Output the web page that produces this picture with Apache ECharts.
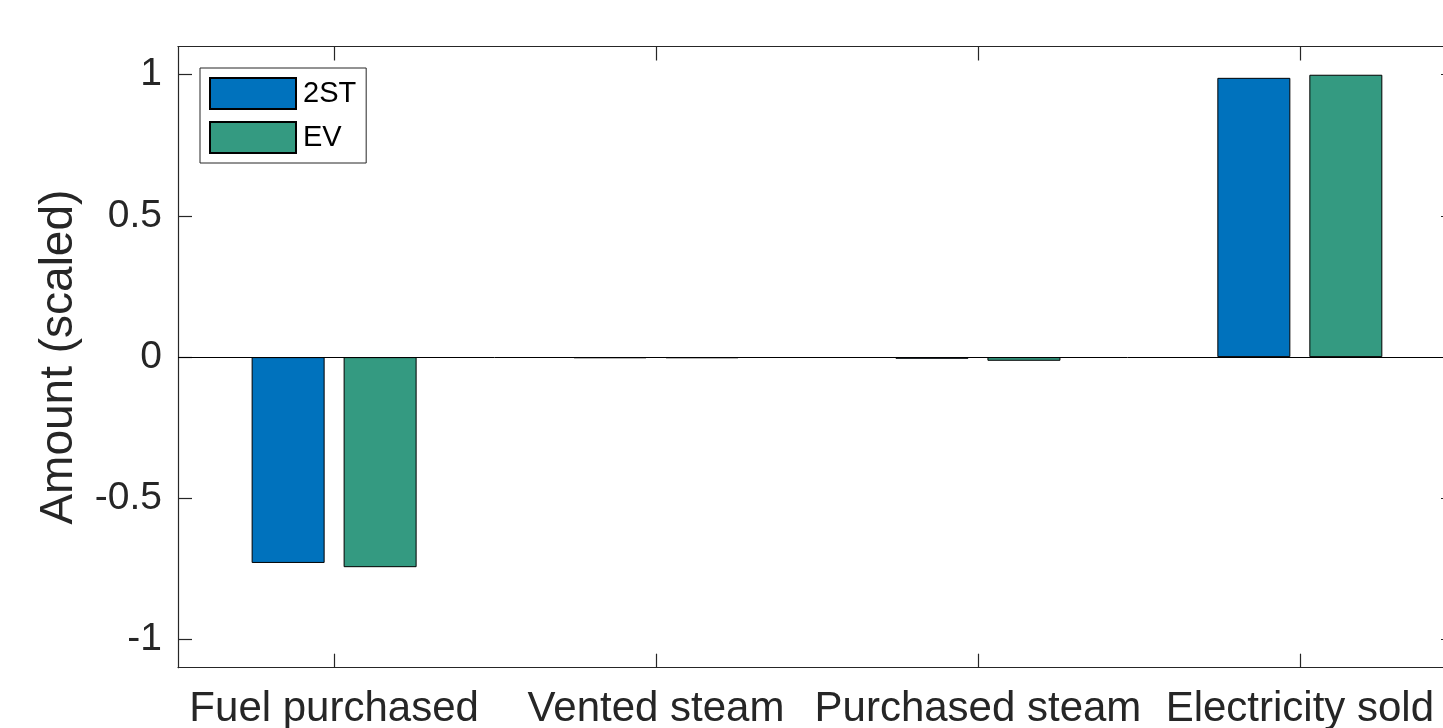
<!DOCTYPE html>
<html>
<head>
<meta charset="utf-8">
<script src="https://cdn.jsdelivr.net/npm/echarts@6/dist/echarts.min.js"></script>
<style>
  html, body { margin: 0; padding: 0; background: #fff; }
  #chart { width: 1443px; height: 728px; }
</style>
</head>
<body>
<div id="chart"></div>
<script>
// Categories on the horizontal axis (placed at positions 1..4)
const categories = ['Fuel purchased', 'Vented steam', 'Purchased steam', 'Electricity sold'];
const seriesNames = ['2ST', 'EV'];
// Scaled amounts per category
const values2ST = [-0.729, -0.004, -0.006, 0.989];
const valuesEV  = [-0.744, -0.004, -0.013, 1.000];
const yTicks = [-1, -0.5, 0, 0.5, 1];
const xTicks = [1, 2, 3, 4];

const FONT = "'Liberation Sans', Arial, sans-serif";
const AXIS_COLOR = '#262626';
const colors = ['#0072BD', '#349A81'];

const toPairs = arr => arr.map((v, i) => [i + 1, v]);

const xMin = 0.515, xMax = 4.482;
const yMin = -1.1, yMax = 1.1;

const chart = echarts.init(document.getElementById('chart'), null, { renderer: 'canvas' });

const frameLine = { show: true, onZero: false, lineStyle: { color: AXIS_COLOR, width: 1.2 } };
const innerTick = (vals) => ({ show: true, inside: true, length: 14, customValues: vals,
  lineStyle: { color: AXIS_COLOR, width: 1.2 } });

chart.setOption({
  animation: false,
  backgroundColor: '#ffffff',
  // the box runs slightly past the right edge of the canvas
  grid: { left: 178, top: 46.5, width: 1277, height: 621.2,
          containLabel: false, outerBoundsMode: 'none' },
  legend: {
    orient: 'vertical',
    left: 200, top: 68,
    padding: [9, 10, 9, 9],
    itemWidth: 86, itemHeight: 31, itemGap: 11,
    backgroundColor: '#fff',
    borderColor: '#262626', borderWidth: 1,
    icon: 'rect',
    textStyle: { fontFamily: FONT, fontSize: 29, color: '#000', padding: [0, 0, 0, 2] },
    data: seriesNames
  },
  xAxis: [
    {
      type: 'value', position: 'bottom', min: xMin, max: xMax,
      axisLine: frameLine,
      axisTick: innerTick(xTicks),
      splitLine: { show: false },
      axisLabel: {
        customValues: xTicks, margin: 21,
        fontFamily: FONT, fontSize: 42, color: AXIS_COLOR,
        formatter: v => categories[Math.round(v) - 1] || ''
      }
    },
    {
      type: 'value', position: 'top', min: xMin, max: xMax,
      axisLine: frameLine,
      axisTick: innerTick(xTicks),
      splitLine: { show: false },
      axisLabel: { show: false }
    }
  ],
  yAxis: [
    {
      type: 'value', position: 'left', min: yMin, max: yMax,
      axisLine: frameLine,
      axisTick: innerTick(yTicks),
      splitLine: { show: false },
      axisLabel: {
        customValues: yTicks, margin: 16,
        fontFamily: FONT, fontSize: 39, color: AXIS_COLOR,
        formatter: v => String(v)
      },
      name: 'Amount (scaled)',
      nameLocation: 'middle',
      nameGap: 96,
      nameTextStyle: { fontFamily: FONT, fontSize: 46, color: AXIS_COLOR }
    },
    {
      type: 'value', position: 'right', min: yMin, max: yMax,
      axisLine: frameLine,
      axisTick: innerTick(yTicks),
      splitLine: { show: false },
      axisLabel: { show: false }
    }
  ],
  series: [
    {
      name: seriesNames[0], type: 'bar', xAxisIndex: 0, yAxisIndex: 0,
      barWidth: 73, barGap: '26%',
      itemStyle: { color: colors[0], borderColor: '#000', borderWidth: 1 },
      data: toPairs(values2ST),
      markLine: {
        silent: true, symbol: ['none', 'none'],
        label: { show: false },
        lineStyle: { color: '#000', width: 1, type: 'solid' },
        data: [{ yAxis: 0 }]
      }
    },
    {
      name: seriesNames[1], type: 'bar', xAxisIndex: 0, yAxisIndex: 0,
      barWidth: 73, barGap: '26%',
      itemStyle: { color: colors[1], borderColor: '#000', borderWidth: 1 },
      data: toPairs(valuesEV)
    }
  ]
});
</script>
</body>
</html>
